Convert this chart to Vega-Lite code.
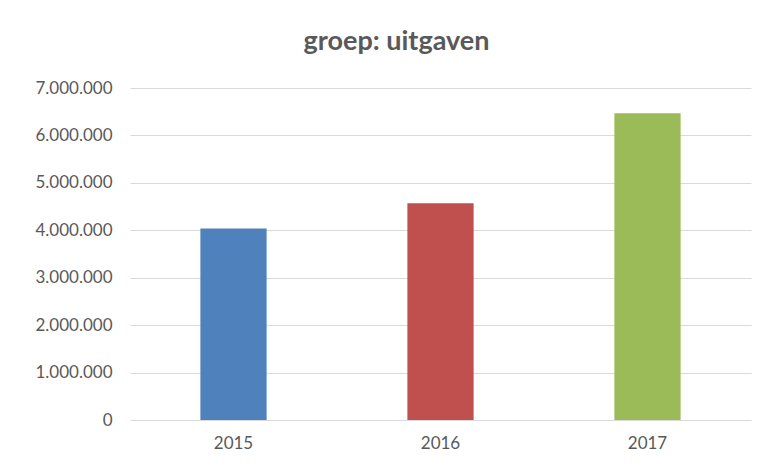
{
  "$schema": "https://vega.github.io/schema/vega-lite/v6.json",
  "width": 621,
  "height": 332,
  "autosize": {"type": "none"},
  "padding": {"left": 130, "top": 88, "right": 24, "bottom": 46},
  "background": "white",
  "title": {
    "text": "groep: uitgaven",
    "anchor": "middle",
    "dx": -44,
    "offset": 23,
    "font": "Lato",
    "fontSize": 27,
    "fontWeight": "bold",
    "color": "#595959"
  },
  "config": {
    "view": {"stroke": null},
    "locale": {"number": {"decimal": ",", "thousands": ".", "grouping": [3], "currency": ["€", ""]}}
  },
  "data": {
    "values": [
      {"jaar": "2015", "uitgaven": 4040000},
      {"jaar": "2016", "uitgaven": 4570000},
      {"jaar": "2017", "uitgaven": 6470000}
    ]
  },
  "mark": {"type": "bar"},
  "encoding": {
    "x": {
      "field": "jaar",
      "type": "nominal",
      "scale": {"paddingInner": 0.68, "paddingOuter": 0.34},
      "axis": {
        "title": null,
        "labelAngle": 0,
        "domain": false,
        "ticks": false,
        "labelPadding": 15,
        "labelFont": "Lato",
        "labelFontSize": 17,
        "labelColor": "#595959"
      }
    },
    "y": {
      "field": "uitgaven",
      "type": "quantitative",
      "scale": {"domain": [0, 7000000], "nice": false},
      "axis": {
        "title": null,
        "format": ",d",
        "values": [0, 1000000, 2000000, 3000000, 4000000, 5000000, 6000000, 7000000],
        "labelOverlap": false,
        "domain": false,
        "ticks": false,
        "labelPadding": 18,
        "labelFont": "Lato",
        "labelFontSize": 17,
        "labelColor": "#595959",
        "gridColor": "#d9d9d9",
        "gridWidth": 1
      }
    },
    "color": {
      "field": "jaar",
      "type": "nominal",
      "scale": {"range": ["#4F81BD", "#C0504D", "#9BBB59"]},
      "legend": null
    }
  }
}
